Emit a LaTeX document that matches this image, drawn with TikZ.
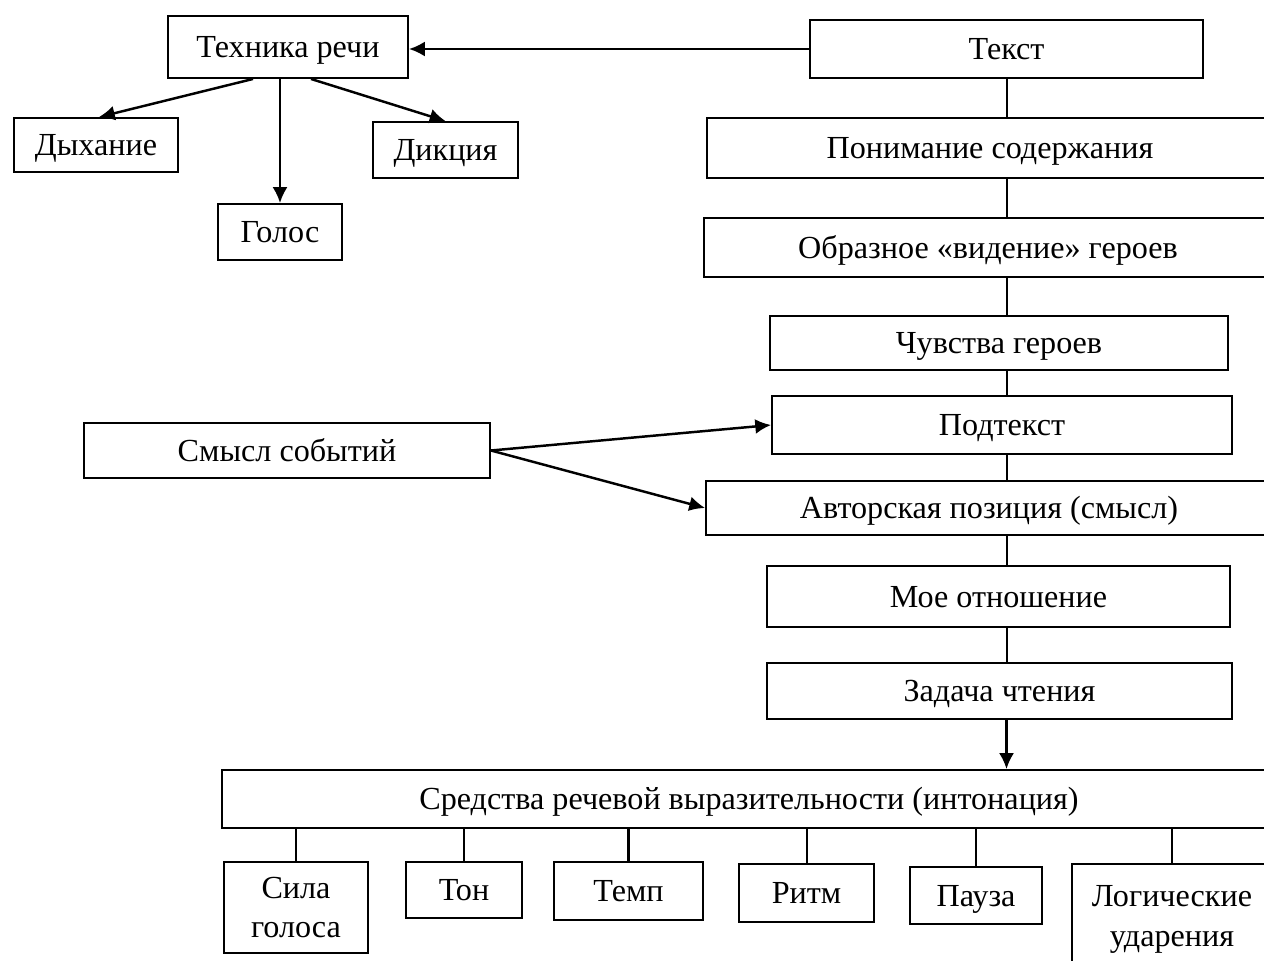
\documentclass[tikz,border=0pt]{standalone}
\usepackage{fontspec}
\setmainfont{Liberation Serif}
\usetikzlibrary{arrows.meta}
\tikzset{
  ramka/.style={draw, line width=1.1pt, inner sep=0pt, align=center,
    text height=12pt, text depth=0pt,
    font=\fontsize{18.3}{22.7}\selectfont},
  dvestroki/.style={text height=, text depth=},
  strelka/.style={line width=1.4pt, -{Latex[length=9pt,width=8.5pt]}},
  liniya/.style={line width=1.15pt}
}
\begin{document}
\begin{tikzpicture}[x=0.02cm, y=-0.02cm]
	\clip (0,0) rectangle (1264,960);
	\node[ramka, minimum width=4.8cm, minimum height=1.24cm] (tehnika) at (288,47) {Техника речи};
	\node[ramka, minimum width=7.86cm, minimum height=1.16cm] (tekst) at (1006.5,49) {Текст};
	\node[ramka, minimum width=3.28cm, minimum height=1.08cm] (dyhanie) at (96,145) {Дыхание};
	\node[ramka, minimum width=2.9cm, minimum height=1.12cm] (dikcia) at (445.5,150) {Дикция};
	\node[ramka, minimum width=2.48cm, minimum height=1.12cm] (golos) at (280,232) {Голос};
	\node[ramka, minimum width=11.32cm, minimum height=1.2cm] (ponim) at (990,148) {Понимание содержания};
	\node[ramka, minimum width=11.36cm, minimum height=1.18cm] (obraz) at (988,247.5) {Образное «видение» героев};
	\node[ramka, minimum width=9.16cm, minimum height=1.08cm] (chuvstva) at (999,343) {Чувства героев};
	\node[ramka, minimum width=9.2cm, minimum height=1.16cm] (podtekst) at (1002,425) {Подтекст};
	\node[ramka, minimum width=11.32cm, minimum height=1.08cm] (avtor) at (989,508) {Авторская позиция (смысл)};
	\node[ramka, minimum width=9.26cm, minimum height=1.22cm] (otnosh) at (998.5,596.5) {Мое отношение};
	\node[ramka, minimum width=9.3cm, minimum height=1.12cm] (zadacha) at (999.5,691) {Задача чтения};
	\node[ramka, minimum width=8.12cm, minimum height=1.1cm] (smysl) at (287,450.5) {Смысл событий};
	\node[ramka, minimum width=21.08cm, minimum height=1.16cm] (sredstva) at (749,799) {Средства речевой выразительности (интонация)};
	\node[ramka, dvestroki, minimum width=2.88cm, minimum height=1.82cm] (sila) at (296,907.5) {Сила\\голоса};
	\node[ramka, minimum width=2.32cm, minimum height=1.12cm] (ton) at (464,890) {Тон};
	\node[ramka, minimum width=2.98cm, minimum height=1.16cm] (temp) at (628.5,891) {Темп};
	\node[ramka, minimum width=2.7cm, minimum height=1.16cm] (ritm) at (806.5,893) {Ритм};
	\node[ramka, minimum width=2.64cm, minimum height=1.14cm] (pauza) at (976,895.5) {Пауза};
	\node[ramka, dvestroki, minimum width=4cm, minimum height=2.2cm] (logich) at (1172,919) {Логические\\ударения};

	\draw[strelka] (tekst.west) -- (tehnika.east |- tekst.west);
	\draw[strelka] ([xshift=-0.7cm]tehnika.south) -- ([xshift=0.06cm]dyhanie.north);
	\draw[strelka] (golos.north |- tehnika.south) -- (golos.north);
	\draw[strelka] ([xshift=0.46cm]tehnika.south) -- (dikcia.north);
	\draw[strelka] (smysl.east) -- (podtekst.west);
	\draw[strelka] (smysl.east) -- (avtor.west);

	\draw[liniya] (tekst.south) -- (tekst.south |- ponim.north);
	\foreach \a/\b in {ponim/obraz, obraz/chuvstva, chuvstva/podtekst, podtekst/avtor, avtor/otnosh, otnosh/zadacha}
		\draw[liniya] (tekst.south |- \a.south) -- (tekst.south |- \b.north);
	\draw[strelka] (tekst.south |- zadacha.south) -- (tekst.south |- sredstva.north);
	\foreach \c in {sila, ton, temp, ritm, pauza, logich}
		\draw[liniya] (\c.north |- sredstva.south) -- (\c.north);
\end{tikzpicture}
\end{document}
